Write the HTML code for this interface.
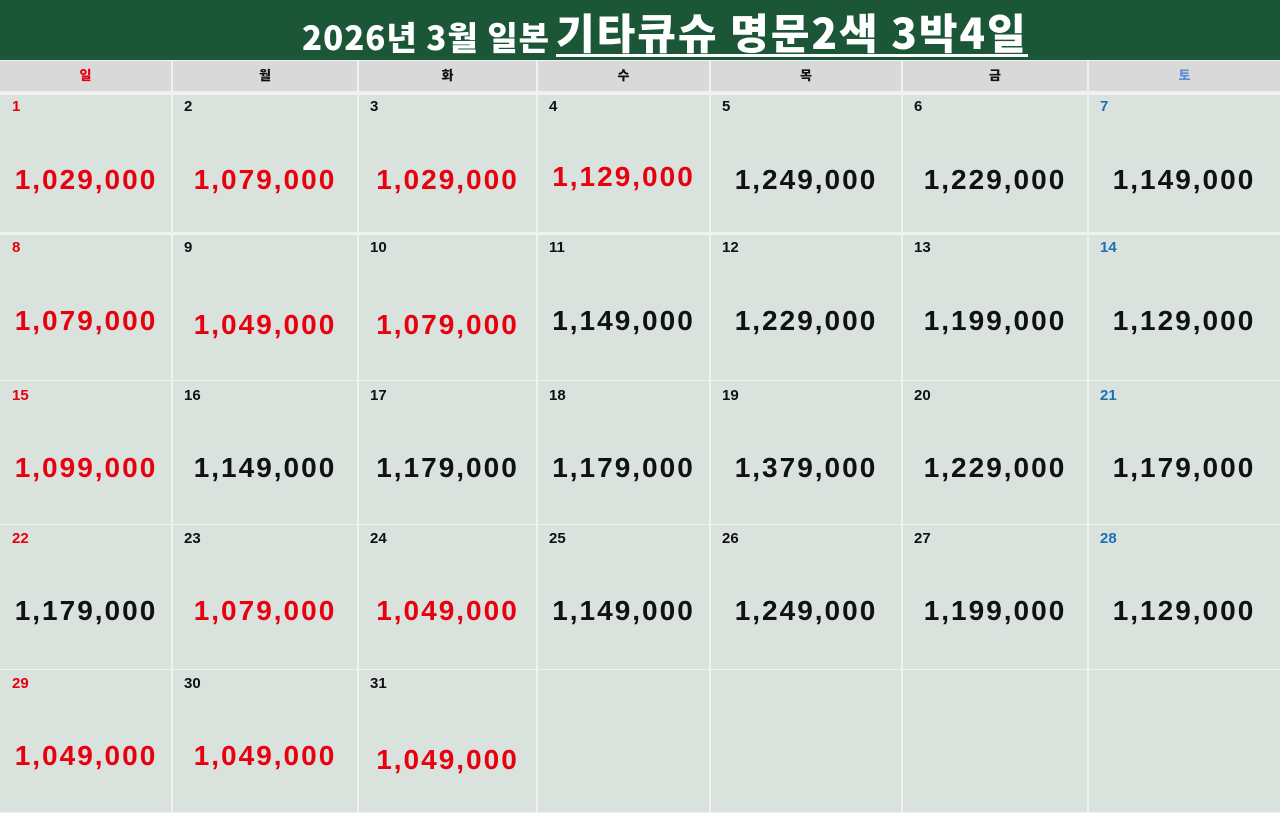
<!DOCTYPE html>
<html><head><meta charset="utf-8">
<style>
*{margin:0;padding:0;box-sizing:border-box}
body{width:1280px;height:813px;overflow:hidden;background:#eef3f0;position:relative;font-family:"Liberation Sans","Noto Sans CJK KR",sans-serif}
.top{position:absolute;left:0;top:0;width:1280px;height:60px;background:#1b5737}
.t1{position:absolute;left:302px;top:11px;font-family:"Noto Sans CJK KR",sans-serif;font-weight:900;color:#fff;font-size:33px;letter-spacing:1px;line-height:50px;white-space:nowrap}
.t2{position:absolute;left:556px;top:4px;font-family:"Noto Sans CJK KR",sans-serif;font-weight:900;color:#fff;font-size:42px;letter-spacing:2px;line-height:56px;white-space:nowrap;border-bottom:3px solid #fff;height:53px}
.hd{position:absolute;top:61px;height:30px;background:#d9d9d9;font-family:"Noto Sans CJK KR",sans-serif;font-weight:900;font-size:13px;text-align:center;line-height:28px;color:#111}
.c{position:absolute;background:#d9e2dd}
.d{position:absolute;font-weight:bold;font-size:15px;line-height:16px;color:#111}
.p{position:absolute;font-weight:bold;font-size:28px;letter-spacing:2px;line-height:30px;text-align:center;color:#111;white-space:nowrap}
.r{color:#e8000f}
.b{color:#1a6fb8}
</style></head><body>
<div class="top"></div>
<div class="t1">2026년 3월 일본</div>
<div class="t2">기타큐슈 명문2색 3박4일</div>

<div class="hd" style="left:0;width:171px;color:#e8000f">일</div>
<div class="hd" style="left:173px;width:184px">월</div>
<div class="hd" style="left:359px;width:177px">화</div>
<div class="hd" style="left:538px;width:171px">수</div>
<div class="hd" style="left:711px;width:190px">목</div>
<div class="hd" style="left:903px;width:184px">금</div>
<div class="hd" style="left:1089px;width:191px;color:#5b8fd6">토</div>

<div id="g"></div>
<script>
var cols=[0,172,358,537,710,902,1088,1280];
var rows=[[95,232],[235,380],[381,524],[525,669],[670,812]];
var dayOff=[12,13,15,14,14];
var data=[
[["1","1,029,000","r",180],["2","1,079,000","r",180],["3","1,029,000","r",180],["4","1,129,000","r",177],["5","1,249,000","",180],["6","1,229,000","",180],["7","1,149,000","",180]],
[["8","1,079,000","r",321],["9","1,049,000","r",325],["10","1,079,000","r",325],["11","1,149,000","",321],["12","1,229,000","",321],["13","1,199,000","",321],["14","1,129,000","",321]],
[["15","1,099,000","r",468],["16","1,149,000","",468],["17","1,179,000","",468],["18","1,179,000","",468],["19","1,379,000","",468],["20","1,229,000","",468],["21","1,179,000","",468]],
[["22","1,179,000","",611],["23","1,079,000","r",611],["24","1,049,000","r",611],["25","1,149,000","",611],["26","1,249,000","",611],["27","1,199,000","",611],["28","1,129,000","",611]],
[["29","1,049,000","r",756],["30","1,049,000","r",756],["31","1,049,000","r",760],null,null,null,null]
];
var h="";
for(var r=0;r<5;r++){for(var c=0;c<7;c++){
 var l=cols[c]+(c?1:0), w=cols[c+1]-cols[c]-(c?1:0)-(c==6?0:1);
 var t=rows[r][0], hh=rows[r][1]-t;
 h+='<div class="c" style="left:'+l+'px;top:'+t+'px;width:'+w+'px;height:'+hh+'px"></div>';
 var d=data[r][c]; if(!d) continue;
 var dc=c==0?"r":(c==6?"b":"");
 h+='<div class="d '+dc+'" style="left:'+(cols[c]+12)+'px;top:'+(t+dayOff[r]-8)+'px">'+d[0]+'</div>';
 h+='<div class="p '+d[2]+'" style="left:'+cols[c]+'px;width:'+(cols[c+1]-cols[c])+'px;top:'+(d[3]-15)+'px">'+d[1]+'</div>';
}}
document.getElementById("g").innerHTML=h;
</script>
</body></html>
